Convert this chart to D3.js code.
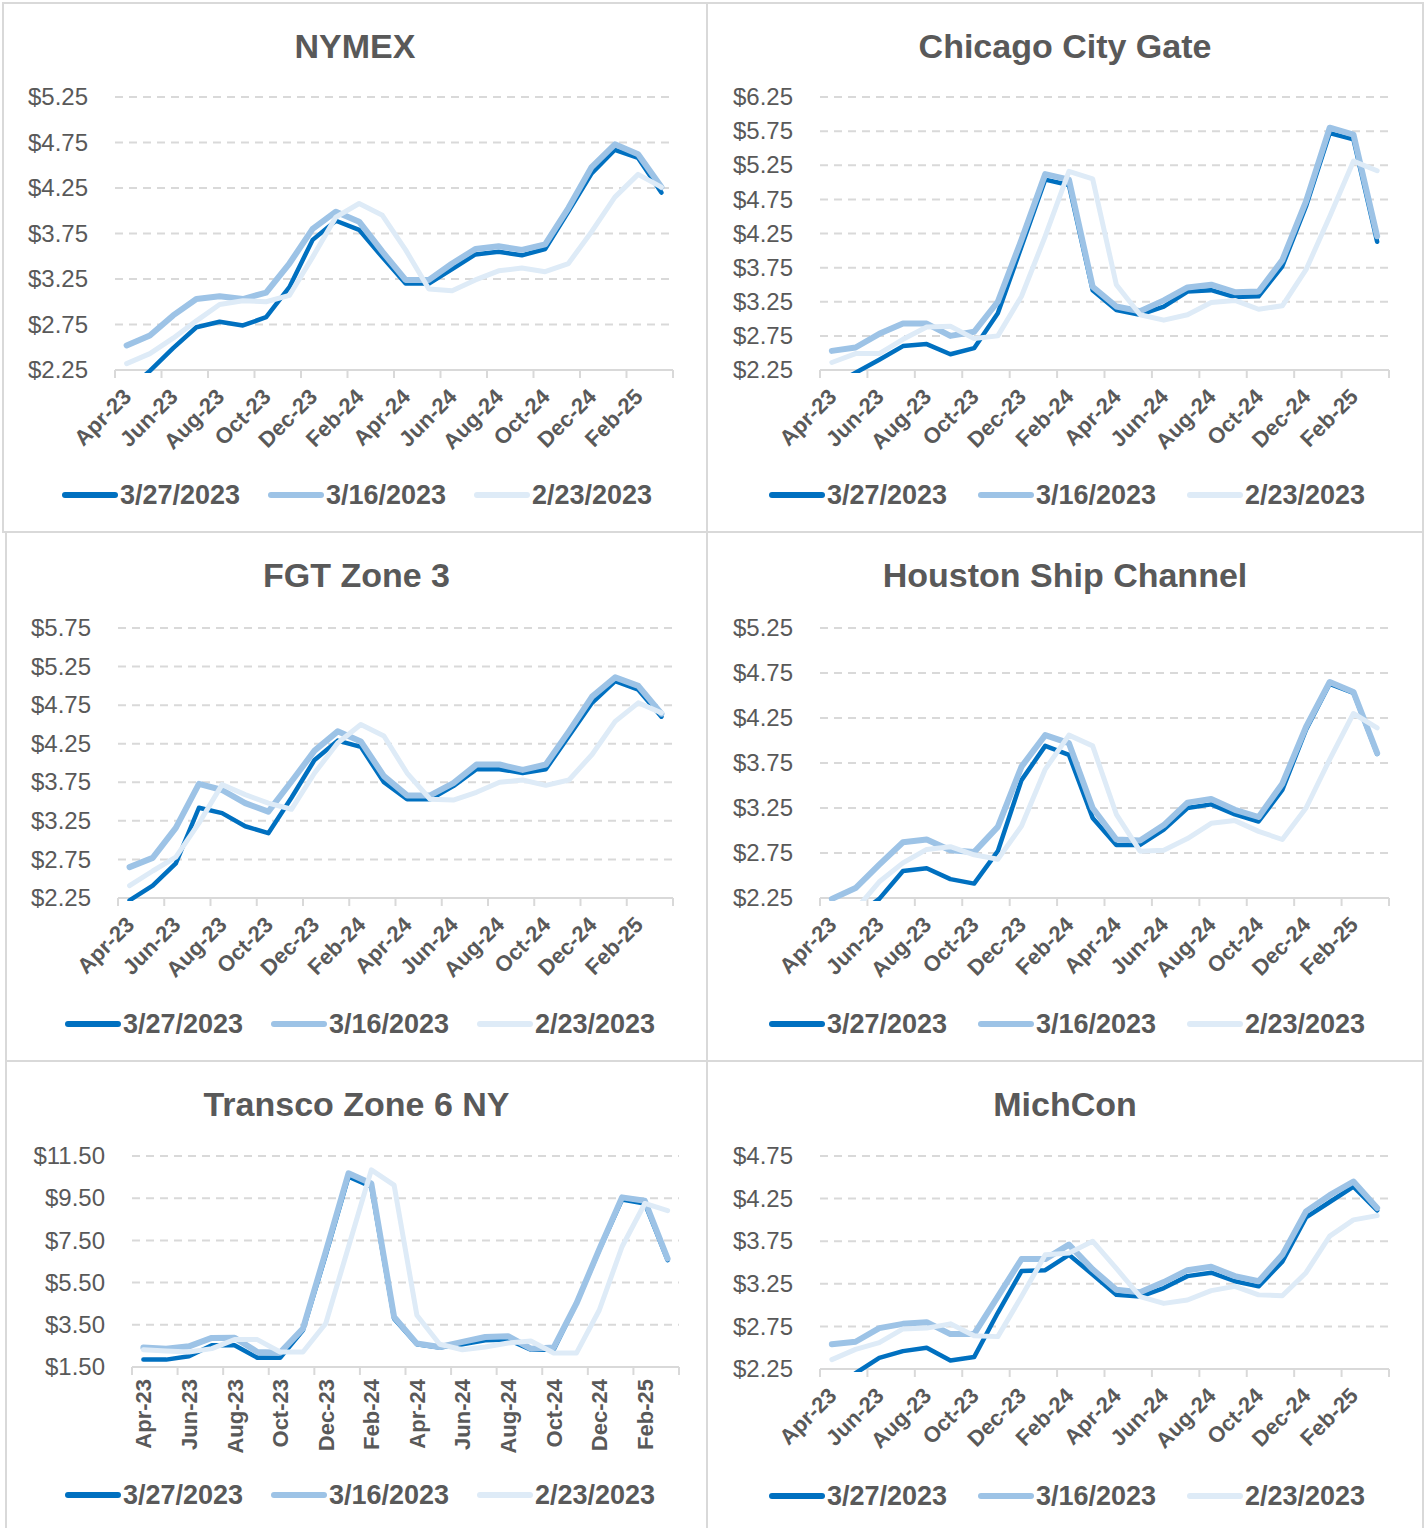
<!DOCTYPE html>
<html>
<head>
<meta charset="utf-8">
<script src="https://cdn.jsdelivr.net/npm/d3@7"></script>
<style>
  body { margin: 0; background: #fff; }
  svg { display: block; font-family: "Liberation Sans", Arial, sans-serif; }
</style>
</head>
<body>
<div id="chart"></div>
<script>
// months on the x axis (Apr-23 .. Mar-25)
var months = ["Apr-23","May-23","Jun-23","Jul-23","Aug-23","Sep-23","Oct-23","Nov-23","Dec-23","Jan-24","Feb-24","Mar-24",
              "Apr-24","May-24","Jun-24","Jul-24","Aug-24","Sep-24","Oct-24","Nov-24","Dec-24","Jan-25","Feb-25","Mar-25"];
var tickLabels = ["Apr-23","Jun-23","Aug-23","Oct-23","Dec-23","Feb-24","Apr-24","Jun-24","Aug-24","Oct-24","Dec-24","Feb-25"];
var seriesNames = ["3/27/2023", "3/16/2023", "2/23/2023"];
var seriesColors = ["#0070C0", "#9DC3E6", "#DEEBF7"];
var seriesWidths = [4.5, 6, 5];

// NYMEX
var nymexTicks = [2.25, 2.75, 3.25, 3.75, 4.25, 4.75, 5.25];
var nymexMar27 = [2.02,2.24,2.49,2.72,2.78,2.74,2.83,3.16,3.68,3.89,3.79,3.49,3.20,3.20,3.36,3.52,3.55,3.51,3.58,3.99,4.41,4.67,4.58,4.20];
var nymexMar16 = [2.52,2.63,2.85,3.03,3.06,3.03,3.10,3.42,3.80,3.99,3.88,3.55,3.24,3.24,3.42,3.58,3.61,3.57,3.63,4.03,4.48,4.73,4.62,4.26];
var nymexFeb23 = [2.32,2.43,2.60,2.79,2.97,3.01,3.00,3.07,3.49,3.93,4.08,3.95,3.57,3.14,3.12,3.24,3.34,3.37,3.33,3.42,3.77,4.15,4.40,4.26];

// Chicago City Gate
var chicagoTicks = [2.25, 2.75, 3.25, 3.75, 4.25, 4.75, 5.25, 5.75, 6.25];
var chicagoMar27 = [2.02,2.21,2.40,2.60,2.63,2.48,2.57,3.08,4.06,5.04,4.96,3.42,3.13,3.06,3.18,3.40,3.42,3.32,3.33,3.77,4.65,5.72,5.63,4.13];
var chicagoMar16 = [2.53,2.58,2.78,2.93,2.93,2.75,2.81,3.25,4.16,5.12,5.04,3.47,3.18,3.11,3.27,3.46,3.50,3.39,3.40,3.86,4.72,5.80,5.70,4.21];
var chicagoFeb23 = [2.36,2.49,2.49,2.70,2.88,2.89,2.71,2.75,3.33,4.21,5.16,5.05,3.50,3.06,2.98,3.06,3.24,3.27,3.14,3.19,3.72,4.50,5.31,5.17];

// FGT Zone 3
var fgtTicks = [2.25, 2.75, 3.25, 3.75, 4.25, 4.75, 5.25, 5.75];
var fgtMar27 = [2.22,2.41,2.70,3.42,3.35,3.18,3.09,3.55,4.04,4.29,4.21,3.75,3.53,3.53,3.70,3.92,3.92,3.87,3.92,4.35,4.78,5.06,4.95,4.60];
var fgtMar16 = [2.65,2.77,3.16,3.73,3.65,3.48,3.37,3.76,4.16,4.41,4.28,3.83,3.58,3.58,3.74,3.98,3.98,3.91,3.98,4.41,4.86,5.11,5.00,4.64];
var fgtFeb23 = [2.41,2.60,2.78,3.22,3.72,3.59,3.48,3.40,3.87,4.26,4.50,4.35,3.87,3.53,3.52,3.62,3.75,3.78,3.71,3.78,4.11,4.54,4.78,4.65];

// Houston Ship Channel
var houstonTicks = [2.25, 2.75, 3.25, 3.75, 4.25, 4.75, 5.25];
var houstonMar27 = [1.95,2.05,2.24,2.55,2.58,2.46,2.41,2.77,3.56,3.94,3.84,3.14,2.84,2.84,3.01,3.25,3.29,3.18,3.10,3.45,4.12,4.63,4.53,3.85];
var houstonMar16 = [2.24,2.36,2.62,2.87,2.90,2.78,2.76,3.04,3.71,4.06,3.97,3.25,2.90,2.89,3.06,3.31,3.35,3.23,3.15,3.52,4.15,4.65,4.54,3.86];
var houstonFeb23 = [2.05,2.12,2.43,2.64,2.79,2.82,2.73,2.68,3.05,3.68,4.06,3.94,3.18,2.77,2.78,2.91,3.08,3.11,2.99,2.90,3.25,3.79,4.30,4.14];

// Transco Zone 6 NY
var transcoTicks = [1.5, 3.5, 5.5, 7.5, 9.5, 11.5];
var transcoMar27 = [1.85,1.85,2.01,2.53,2.53,1.94,1.94,3.24,6.80,10.52,10.04,3.79,2.58,2.42,2.58,2.77,2.80,2.32,2.32,4.51,7.04,9.44,9.25,6.56];
var transcoMar16 = [2.42,2.37,2.48,2.88,2.89,2.21,2.18,3.32,6.96,10.68,10.20,3.87,2.61,2.45,2.69,2.92,2.96,2.37,2.42,4.51,7.07,9.54,9.38,6.64];
var transcoFeb23 = [2.32,2.26,2.21,2.37,2.80,2.80,2.21,2.21,3.56,7.20,10.84,10.12,3.95,2.58,2.32,2.45,2.64,2.73,2.16,2.16,4.19,7.20,9.25,8.91];

// MichCon
var michconTicks = [2.25, 2.75, 3.25, 3.75, 4.25, 4.75];
var michconMar27 = [2.02,2.20,2.38,2.46,2.50,2.35,2.39,2.91,3.40,3.41,3.59,3.36,3.12,3.10,3.20,3.34,3.38,3.28,3.22,3.51,4.03,4.21,4.39,4.11];
var michconMar16 = [2.54,2.57,2.73,2.78,2.80,2.66,2.66,3.10,3.54,3.54,3.71,3.42,3.18,3.15,3.27,3.41,3.45,3.34,3.28,3.59,4.10,4.29,4.45,4.14];
var michconFeb23 = [2.36,2.48,2.56,2.72,2.73,2.78,2.64,2.63,3.10,3.59,3.61,3.75,3.43,3.10,3.02,3.06,3.17,3.22,3.12,3.11,3.38,3.81,4.00,4.05];

var W = 1428, H = 1528;
var textColor = "#595959";
var gridColor = "#D9D9D9";

var panels = [
  {title: "NYMEX", box: [3, 3, 707, 532], plot: [115, 97, 673, 370], ticks: nymexTicks, fmt: "$.2f",
   series: [nymexMar27, nymexMar16, nymexFeb23], legend: [62, 495, 206], rot: -45},
  {title: "Chicago City Gate", box: [707, 3, 1423, 532], plot: [820, 97, 1389, 370], ticks: chicagoTicks, fmt: "$.2f",
   series: [chicagoMar27, chicagoMar16, chicagoFeb23], legend: [769, 495, 209], rot: -45},
  {title: "FGT Zone 3", box: [6, 532, 707, 1061], plot: [118, 628, 673, 898], ticks: fgtTicks, fmt: "$.2f",
   series: [fgtMar27, fgtMar16, fgtFeb23], legend: [65, 1024, 206], rot: -45},
  {title: "Houston Ship Channel", box: [707, 532, 1423, 1061], plot: [820, 628, 1389, 898], ticks: houstonTicks, fmt: "$.2f",
   series: [houstonMar27, houstonMar16, houstonFeb23], legend: [769, 1024, 209], rot: -45},
  {title: "Transco Zone 6 NY", box: [6, 1061, 707, 1540], plot: [132, 1156, 679, 1367], ticks: transcoTicks, fmt: "$.2f",
   series: [transcoMar27, transcoMar16, transcoFeb23], legend: [65, 1495, 206], rot: -90},
  {title: "MichCon", box: [707, 1061, 1423, 1540], plot: [820, 1156, 1389, 1369], ticks: michconTicks, fmt: "$.2f",
   series: [michconMar27, michconMar16, michconFeb23], legend: [769, 1496, 209], rot: -45}
];

var svg = d3.select("#chart").append("svg")
  .attr("width", W)
  .attr("height", H);

svg.append("rect").attr("width", W).attr("height", H).attr("fill", "#fff");

panels.forEach(function(p, pi) {
  var g = svg.append("g");
  var b = p.box;

  // panel border
  g.append("rect")
    .attr("x", b[0]).attr("y", b[1])
    .attr("width", b[2] - b[0]).attr("height", b[3] - b[1])
    .attr("fill", "none")
    .attr("stroke", gridColor)
    .attr("stroke-width", 2);

  // title
  g.append("text")
    .attr("x", (b[0] + b[2]) / 2)
    .attr("y", b[1] + 55)
    .attr("text-anchor", "middle")
    .attr("font-size", 34)
    .attr("font-weight", "bold")
    .attr("fill", textColor)
    .text(p.title);

  var x = d3.scaleBand()
    .domain(months)
    .range([p.plot[0], p.plot[2]]);

  var y = d3.scaleLinear()
    .domain([p.ticks[0], p.ticks[p.ticks.length - 1]])
    .range([p.plot[3], p.plot[1]]);

  // grid lines
  g.selectAll(".grid")
    .data(p.ticks.slice(1))
    .enter()
    .append("line")
    .attr("x1", p.plot[0])
    .attr("x2", p.plot[2])
    .attr("y1", function(d) { return y(d); })
    .attr("y2", function(d) { return y(d); })
    .attr("stroke", gridColor)
    .attr("stroke-width", 2)
    .attr("stroke-dasharray", "8,6");

  // y axis labels
  var yAxis = d3.axisLeft(y)
    .tickValues(p.ticks)
    .tickFormat(d3.format(p.fmt))
    .tickSize(0)
    .tickPadding(27);
  var yg = g.append("g")
    .attr("transform", "translate(" + p.plot[0] + ",0)")
    .call(yAxis);
  yg.select(".domain").remove();
  yg.selectAll("text")
    .attr("font-size", 24)
    .attr("font-family", "Liberation Sans, Arial, sans-serif")
    .attr("fill", textColor);

  // x axis line and tick marks
  var boundaries = months.filter(function(m, i) { return i % 2 === 0; });
  g.append("line")
    .attr("x1", p.plot[0]).attr("x2", p.plot[2])
    .attr("y1", p.plot[3]).attr("y2", p.plot[3])
    .attr("stroke", gridColor).attr("stroke-width", 2);
  g.selectAll(".xtick")
    .data(boundaries.concat(["end"]))
    .enter()
    .append("line")
    .attr("x1", function(d) { return d === "end" ? p.plot[2] : x(d); })
    .attr("x2", function(d) { return d === "end" ? p.plot[2] : x(d); })
    .attr("y1", p.plot[3])
    .attr("y2", p.plot[3] + 8)
    .attr("stroke", gridColor).attr("stroke-width", 2);

  // x labels
  g.selectAll(".xlabel")
    .data(tickLabels)
    .enter()
    .append("text")
    .attr("transform", function(d) {
      var cx = x(d) + x.bandwidth() / 2;
      if (p.rot === -90) return "translate(" + (cx + 8) + "," + (p.plot[3] + 12) + ") rotate(-90)";
      return "translate(" + (cx + 6) + "," + (p.plot[3] + 28) + ") rotate(-45)";
    })
    .attr("text-anchor", "end")
    .attr("font-size", 22)
    .attr("font-weight", "bold")
    .attr("fill", textColor)
    .text(function(d) { return d; });

  // clip lines to plot area
  var clipId = "clip" + pi;
  svg.append("clipPath").attr("id", clipId)
    .append("rect")
    .attr("x", p.plot[0]).attr("y", p.plot[1] - 20)
    .attr("width", p.plot[2] - p.plot[0])
    .attr("height", p.plot[3] - p.plot[1] + 23);

  var line = d3.line()
    .x(function(d, i) { return x(months[i]) + x.bandwidth() / 2; })
    .y(function(d) { return y(d); });

  var lg = g.append("g").attr("clip-path", "url(#" + clipId + ")");
  p.series.forEach(function(s, si) {
    lg.append("path")
      .datum(s)
      .attr("d", line)
      .attr("fill", "none")
      .attr("stroke", seriesColors[si])
      .attr("stroke-width", seriesWidths[si])
      .attr("stroke-linejoin", "round")
      .attr("stroke-linecap", "round");
  });

  // legend
  var legend = g.append("g")
    .attr("transform", "translate(" + p.legend[0] + "," + p.legend[1] + ")");
  seriesNames.forEach(function(name, si) {
    var item = legend.append("g").attr("transform", "translate(" + (si * p.legend[2]) + ",0)");
    item.append("line")
      .attr("x1", 3).attr("x2", 53)
      .attr("y1", 0).attr("y2", 0)
      .attr("stroke", seriesColors[si])
      .attr("stroke-width", 6)
      .attr("stroke-linecap", "round");
    item.append("text")
      .attr("x", 58)
      .attr("y", 9)
      .attr("font-size", 27)
      .attr("font-weight", "bold")
      .attr("fill", textColor)
      .text(name);
  });
});
</script>
</body>
</html>
